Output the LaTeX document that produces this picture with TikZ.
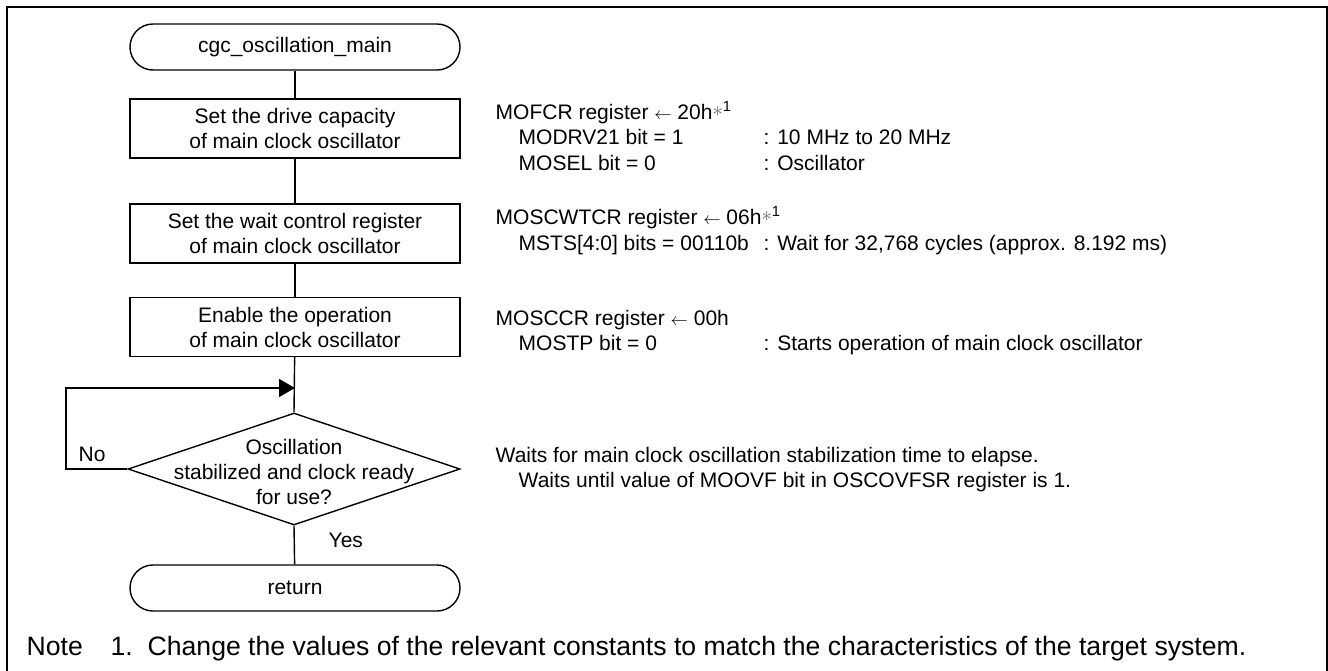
\documentclass[tikz,border=0pt]{standalone}
\usepackage{fontspec}
\setmainfont{Liberation Sans}
\usetikzlibrary{shapes.geometric,arrows.meta}
\newcommand{\larr}{{\fontsize{17}{17}\selectfont$\leftarrow$}}
\newcommand{\astone}{\raisebox{3pt}{\color{black!60}$\ast$}\textsuperscript{1}}
\begin{document}
\begin{tikzpicture}[x=1pt,y=-1pt,
  line width=1.4pt,
  fc/.style={font=\fontsize{21}{25}\selectfont},
  proc/.style={draw, fc, align=center, minimum width=330pt, minimum height=59pt, inner sep=0pt},
  term/.style={proc, rounded corners=23pt, minimum height=46pt},
  dec/.style={draw, diamond, minimum width=332pt, minimum height=112pt, inner sep=0pt},
  rt/.style={fc, anchor=base west, inner sep=0pt},
  nt/.style={font=\fontsize{26.6}{30}\selectfont, anchor=base west, inner sep=0pt},
  conn/.style={draw, line width=1.4pt},
  arr/.style={conn, -{Triangle[length=16pt,width=18pt]}}
]
\useasboundingbox (0,0) rectangle (1328,670);
\draw[line width=2pt] (7,672) -- (7,7) -- (1326.5,7) -- (1326.5,672);

% flowchart
\node[term] (start) at (295,47) {cgc\_oscillation\_main};
\node[proc] (b1) at (295,128.5) {Set the drive capacity\\of main clock oscillator};
\node[proc] (b2) at (295,233.5) {Set the wait control register\\of main clock oscillator};
\node[proc] (b3) at (295,327) {Enable the operation\\of main clock oscillator};
\node[dec] (d) at (294,469) {};
\node[fc, align=center, inner sep=0pt] (dt) at (294,472) {Oscillation\\stabilized and clock ready\\for use?};
\node[term] (ret) at (295,588) {return};
\coordinate (loopin) at (295,388);
\coordinate (lc1) at (66,469);
\coordinate (lc2) at (66,388);

\draw[conn] (start) -- (b1);
\draw[conn] (b1) -- (b2);
\draw[conn] (b2) -- (b3);
\draw[conn] (b3) -- (d.north);
\draw[conn] (d.south) -- (ret);
\draw[arr] (d.west) -- (lc1) -- (lc2) -- (loopin);

\node[rt] (no) at (78,461) {No};
\node[rt] (yes) at (328,547) {Yes};

% right column
\node[rt] (r1) at (495,119) {MOFCR register \larr\ 20h\astone};
\node[rt] (r2) at (518,144) {MODRV21 bit = 1};
\node[rt] (r2b) at (763,144) {: 10 MHz to 20 MHz};
\node[rt] (r3) at (518,170) {MOSEL bit = 0};
\node[rt] (r3b) at (763,170) {: Oscillator};
\node[rt] (r4) at (495,224) {MOSCWTCR register \larr\ 06h\astone};
\node[rt] (r5) at (518,250) {MSTS[4:0] bits = 00110b};
\node[rt] (r5b) at (763,250) {: Wait for 32,768 cycles (approx. 8.192 ms)};
\node[rt] (r6) at (495,325) {MOSCCR register \larr\ 00h};
\node[rt] (r7) at (518,350) {MOSTP bit = 0};
\node[rt] (r7b) at (763,350) {: Starts operation of main clock oscillator};
\node[rt] (r8) at (495,462) {Waits for main clock oscillation stabilization time to elapse.};
\node[rt] (r9) at (518,487) {Waits until value of MOOVF bit in OSCOVFSR register is 1.};

% note
\node[nt] (n1) at (26,655) {Note};
\node[nt] (n2) at (110,655) {1.};
\node[nt] (n3) at (147,655) {Change the values of the relevant constants to match the characteristics of the target system.};
\end{tikzpicture}
\end{document}
